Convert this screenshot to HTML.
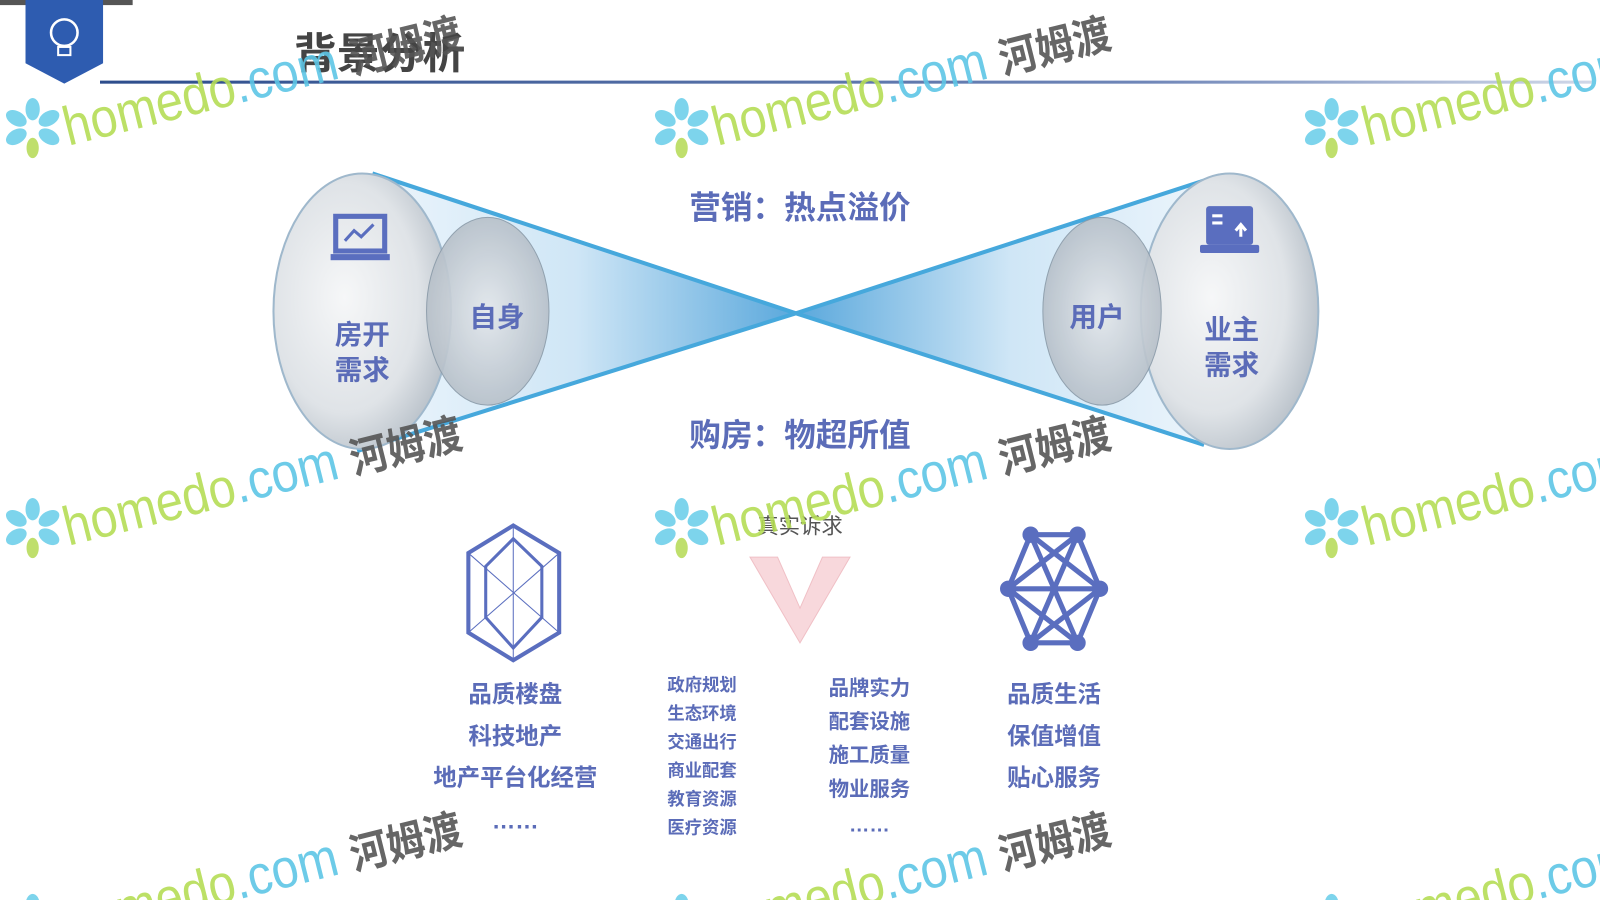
<!DOCTYPE html>
<html><head><meta charset="utf-8"><style>
html,body{margin:0;padding:0;background:#fff;width:1600px;height:900px;overflow:hidden;}
svg{display:block;overflow:hidden;font-family:"Liberation Sans","Noto Sans CJK SC",sans-serif;}
</style></head><body>
<svg width="1600" height="900" viewBox="0 0 1568 882" preserveAspectRatio="none">
<defs>
<clipPath id="page"><rect x="0" y="0" width="1568" height="882"/></clipPath>
<linearGradient id="cl" x1="0" x2="1" y1="0" y2="0"><stop offset="0" stop-color="#eef6fc"/><stop offset="0.5" stop-color="#cfe6f6"/><stop offset="1" stop-color="#5aa8dc"/></linearGradient>
<linearGradient id="cr" x1="1" x2="0" y1="0" y2="0"><stop offset="0" stop-color="#eef6fc"/><stop offset="0.5" stop-color="#cfe6f6"/><stop offset="1" stop-color="#5aa8dc"/></linearGradient>
<radialGradient id="ball" cx="0.4" cy="0.45" r="0.7"><stop offset="0" stop-color="#f6f7f8"/><stop offset="0.6" stop-color="#dfe3e7"/><stop offset="1" stop-color="#aab4be"/></radialGradient>
<radialGradient id="ball2" cx="0.5" cy="0.5" r="0.6"><stop offset="0" stop-color="#e4e8ec"/><stop offset="1" stop-color="#aeb8c2"/></radialGradient>
<linearGradient id="ln" x1="0" x2="1"><stop offset="0" stop-color="#2d4d8c"/><stop offset="0.7" stop-color="#6f86b8"/><stop offset="1" stop-color="#d0d8e8"/></linearGradient>
<g id="flower"><g fill="#6fd0ea"><ellipse cx="0" cy="-18" rx="7" ry="11"/><ellipse cx="16" cy="-9" rx="7" ry="11" transform="rotate(60 16 -9)"/><ellipse cx="16" cy="9" rx="7" ry="11" transform="rotate(120 16 9)"/><ellipse cx="-16" cy="-9" rx="7" ry="11" transform="rotate(-60 -16 -9)"/><ellipse cx="-16" cy="9" rx="7" ry="11" transform="rotate(-120 -16 9)"/></g><ellipse cx="0" cy="20" rx="6" ry="10" fill="#b8dc5c"/></g>
<g id="wm"><use href="#flower" x="0" y="0"/><text x="35" y="18" font-size="54" fill="#b5dd55" transform="rotate(-14 35 18)" textLength="400" lengthAdjust="spacingAndGlyphs">homedo<tspan fill="#5dc6e6">.com</tspan> <tspan fill="#555" font-weight="bold" font-size="42">河姆渡</tspan></text></g>
</defs>
<g clip-path="url(#page)">
<rect x="0" y="0" width="130" height="5" fill="#555"/>
<path d="M25 0 H101 V62 L63 82 L25 62 Z" fill="#2e5cb0"/>
<circle cx="63" cy="32" r="13" fill="none" stroke="#fff" stroke-width="2.5"/>
<rect x="57" y="46" width="12" height="8" fill="none" stroke="#fff" stroke-width="2"/>
<text x="288" y="67" font-size="42" font-weight="bold" fill="#444">背景分析</text>
<rect x="98" y="79" width="1462" height="3" fill="url(#ln)"/>

<polygon points="365,170 780,307 350,442 360,305" fill="url(#cl)"/>
<polygon points="1195,172 780,307 1180,436 1200,305" fill="url(#cr)"/>
<line x1="365" y1="170" x2="780" y2="307" stroke="#46a8dc" stroke-width="4"/>
<line x1="350" y1="442" x2="780" y2="307" stroke="#46a8dc" stroke-width="4"/>
<line x1="1195" y1="172" x2="780" y2="307" stroke="#46a8dc" stroke-width="4"/>
<line x1="1180" y1="436" x2="780" y2="307" stroke="#46a8dc" stroke-width="4"/>

<ellipse cx="355" cy="305" rx="87" ry="135" fill="url(#ball)" stroke="#9fb8cc" stroke-width="2"/>
<ellipse cx="478" cy="305" rx="60" ry="92" fill="url(#ball2)" opacity="0.9" stroke="#8a9aa8"/>
<ellipse cx="1205" cy="305" rx="87" ry="135" fill="url(#ball)" stroke="#9fb8cc" stroke-width="2"/>
<ellipse cx="1080" cy="305" rx="58" ry="92" fill="url(#ball2)" opacity="0.9" stroke="#8a9aa8"/>

<rect x="329" y="212" width="48" height="34" fill="none" stroke="#5a6ebf" stroke-width="5"/>
<polyline points="338,236 347,226 354,232 366,220" fill="none" stroke="#5a6ebf" stroke-width="3"/>
<rect x="324" y="249" width="58" height="6" fill="#5a6ebf"/>
<rect x="1182" y="202" width="46" height="38" rx="3" fill="#5a6ebf"/>
<rect x="1176" y="240" width="58" height="8" rx="2" fill="#5a6ebf"/>
<rect x="1188" y="210" width="10" height="3" fill="#fff"/><rect x="1188" y="217" width="10" height="3" fill="#fff"/>
<path d="M1216 232 V222 M1211 226 L1216 220 L1221 226" stroke="#fff" stroke-width="3" fill="none"/>

<g fill="#5b6cb8" font-size="27" font-weight="bold" text-anchor="middle">
<text x="355" y="337">房开</text><text x="355" y="372">需求</text>
<text x="487" y="320">自身</text><text x="1075" y="320">用户</text>
<text x="1207" y="332">业主</text><text x="1207" y="367">需求</text>
</g>
<g fill="#5b6cb8" font-size="31" font-weight="bold" text-anchor="middle">
<text x="784" y="214">营销：热点溢价</text><text x="784" y="437">购房：物超所值</text>
</g>

<text x="784" y="523" font-size="21" fill="#555" text-anchor="middle">真实诉求</text>
<polygon points="735,546 762,546 784,596 806,546 833,546 784,630" fill="#f8d8dc" stroke="#f0c0c6"/>
<g stroke="#5a6ebf" fill="none">
<polygon points="503,515 548,542 548,620 503,647 459,620 459,542" stroke-width="4"/>
<polygon points="503,528 531,555 531,605 503,635 476,605 476,555" stroke-width="3"/>
<line x1="503" y1="515" x2="503" y2="647" stroke-width="1"/><line x1="459" y1="542" x2="548" y2="620" stroke-width="1"/><line x1="548" y1="542" x2="459" y2="620" stroke-width="1"/>
</g>
<g stroke="#5a6ebf" stroke-width="5" fill="none">
<polygon points="1010,524 1056,524 1078,577 1056,630 1010,630 988,577"/>
<line x1="1010" y1="524" x2="1056" y2="630"/><line x1="1056" y1="524" x2="1010" y2="630"/>
<line x1="988" y1="577" x2="1078" y2="577"/><line x1="1010" y1="524" x2="1078" y2="577"/><line x1="1056" y1="524" x2="988" y2="577"/>
<line x1="988" y1="577" x2="1056" y2="630"/><line x1="1078" y1="577" x2="1010" y2="630"/>
</g>
<g fill="#5a6ebf"><circle cx="1010" cy="524" r="8"/><circle cx="1056" cy="524" r="8"/><circle cx="988" cy="577" r="8"/><circle cx="1078" cy="577" r="8"/><circle cx="1010" cy="630" r="8"/><circle cx="1056" cy="630" r="8"/></g>

<g fill="#5b6cb8" font-weight="bold" text-anchor="middle">
<g font-size="23"><text x="505" y="688">品质楼盘</text><text x="505" y="729">科技地产</text><text x="505" y="770">地产平台化经营</text><text x="505" y="812">……</text>
<text x="1033" y="688">品质生活</text><text x="1033" y="729">保值增值</text><text x="1033" y="770">贴心服务</text></g>
<g font-size="17"><text x="688" y="677">政府规划</text><text x="688" y="705">生态环境</text><text x="688" y="733">交通出行</text><text x="688" y="761">商业配套</text><text x="688" y="789">教育资源</text><text x="688" y="817">医疗资源</text></g>
<g font-size="20"><text x="852" y="681">品牌实力</text><text x="852" y="714">配套设施</text><text x="852" y="747">施工质量</text><text x="852" y="780">物业服务</text><text x="852" y="815">……</text></g>
</g>

<g opacity="0.9">
<use href="#wm" x="32" y="125"/><use href="#wm" x="668" y="125"/><use href="#wm" x="1305" y="125"/>
<use href="#wm" x="32" y="517"/><use href="#wm" x="668" y="517"/><use href="#wm" x="1305" y="517"/>
<use href="#wm" x="32" y="905"/><use href="#wm" x="668" y="905"/><use href="#wm" x="1305" y="905"/>
</g>
</g>
</svg>
</body></html>
